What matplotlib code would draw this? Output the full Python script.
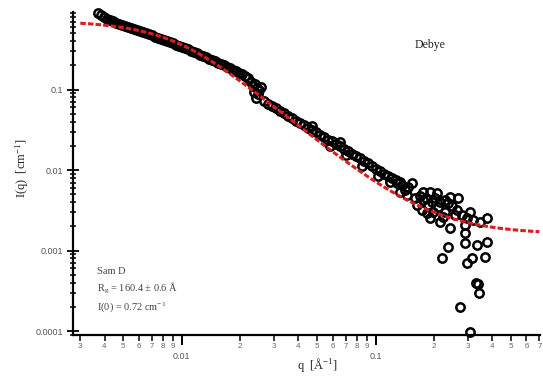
import numpy as np
import matplotlib
matplotlib.use("Agg")
import matplotlib.pyplot as plt
from matplotlib.ticker import LogLocator, FuncFormatter, NullFormatter

# ---- SANS data, sample "Sam D" ----
# low-q detector setting
q_low = [0.00370, 0.00383, 0.00397, 0.00412, 0.00427, 0.00442, 0.00458, 0.00475,
         0.00492, 0.00510, 0.00528, 0.00547, 0.00567, 0.00588, 0.00609, 0.00631,
         0.00654, 0.00677, 0.00702, 0.00727, 0.00754, 0.00781, 0.00809, 0.00839,
         0.00869, 0.00900, 0.00933, 0.00967, 0.01002, 0.01038, 0.01076, 0.01115,
         0.01155, 0.01197, 0.01240, 0.01285, 0.01332, 0.01380, 0.01430, 0.01481,
         0.01535, 0.01591, 0.01648, 0.01708, 0.01770, 0.01834, 0.01900, 0.01969,
         0.02040, 0.02114, 0.02191]
i_low = [0.892, 0.842, 0.795, 0.762, 0.730, 0.709, 0.680, 0.661, 0.642, 0.624,
         0.598, 0.581, 0.564, 0.548, 0.533, 0.518, 0.503, 0.489, 0.475, 0.455,
         0.443, 0.430, 0.418, 0.400, 0.389, 0.378, 0.362, 0.352, 0.337, 0.328,
         0.318, 0.305, 0.292, 0.284, 0.272, 0.261, 0.253, 0.243, 0.232, 0.226,
         0.216, 0.207, 0.201, 0.193, 0.185, 0.177, 0.170, 0.163, 0.156, 0.147,
         0.139]

# overlap region between settings
q_overlap = [0.02276, 0.02331, 0.02386, 0.02444, 0.02503, 0.02564, 0.02359,
             0.02473, 0.02415]
i_overlap = [0.1239, 0.1105, 0.1170, 0.1044, 0.0986, 0.1074, 0.0931, 0.0879,
             0.0784]

# mid-q detector setting
q_mid = [0.02656, 0.02785, 0.02920, 0.03062, 0.03211, 0.03367, 0.03531, 0.03703,
         0.03883, 0.04073, 0.04271, 0.04478, 0.04696, 0.04925, 0.05164, 0.05415,
         0.05679, 0.05955, 0.06245, 0.06549, 0.06867, 0.07201, 0.07551, 0.07918,
         0.08303, 0.08707, 0.09130, 0.09574, 0.1004, 0.1053, 0.1104, 0.1157,
         0.1213, 0.1272, 0.1334,
         0.05815, 0.07028, 0.08503, 0.1028, 0.04696, 0.06549]
i_mid = [0.0720, 0.0660, 0.0624, 0.0589, 0.0541, 0.0511, 0.0469, 0.0443,
         0.0406, 0.0384, 0.0362, 0.0332, 0.0314, 0.0296, 0.0272, 0.0257,
         0.0236, 0.0229, 0.0210, 0.0199, 0.0182, 0.0172, 0.0158, 0.0149,
         0.0141, 0.0129, 0.0122, 0.0112, 0.0103, 0.00972, 0.00892, 0.00842,
         0.00795, 0.00751, 0.00710,
         0.0199, 0.01536, 0.0112, 0.00842, 0.0352, 0.02227]

# high-q detector setting
q_high = [0.1185, 0.1288, 0.1416, 0.1539, 0.1449, 0.1367, 0.1467, 0.1594, 0.1334,
          0.1753, 0.1905, 0.2070, 0.1753, 0.1951, 0.2145, 0.1632, 0.1733, 0.1838,
          0.1974, 0.2145, 0.2415, 0.2359, 0.2656, 0.2625, 0.2785, 0.3062, 0.2956,
          0.3173, 0.3448, 0.3748, 0.2415, 0.2886, 0.2886, 0.1905, 0.2276, 0.2223,
          0.1692, 0.1817, 0.2021, 0.2095, 0.1861, 0.2276, 0.2473, 0.2563]
i_high = [0.00710, 0.00690, 0.00564, 0.00690, 0.00489, 0.00651, 0.00615, 0.00449,
          0.00533, 0.00533, 0.00533, 0.00518, 0.00424, 0.00400, 0.00400, 0.00367,
          0.00318, 0.00292, 0.00301, 0.00226, 0.00462, 0.00389, 0.00449, 0.00318,
          0.00276, 0.00301, 0.00253, 0.00239, 0.00226, 0.00253, 0.00190, 0.00207,
          0.00165, 0.00253, 0.00301, 0.00261, 0.00475, 0.00449, 0.00449, 0.00347,
          0.00367, 0.00424, 0.00357, 0.00276]
q_noisy = [0.2359, 0.2197, 0.2886, 0.3329, 0.3748, 0.3136, 0.2956, 0.3661,
           0.3289, 0.3368, 0.3407, 0.2720, 0.3062]
i_noisy = [0.00111, 0.000807, 0.00124, 0.00117, 0.00128, 0.000807, 0.000700,
           0.000831, 0.000395, 0.000384, 0.000296, 0.000199, 0.0000972]

# ---- Debye fit ----
rg = 160.4        # Å
rg_err = 0.6      # Å
i0 = 0.72         # cm^-1
background = 0.0016
q_fit_min, q_fit_max = 0.003, 0.7

q_fit = np.geomspace(q_fit_min, q_fit_max, 500)
u = (q_fit * rg) ** 2
i_fit = i0 * 2.0 * (np.exp(-u) + u - 1.0) / u ** 2 + background

# ---- figure ----
plt.rcParams["font.family"] = ["Liberation Sans", "DejaVu Sans"]
plt.rcParams["mathtext.default"] = "regular"
serif = ["Liberation Serif", "DejaVu Serif"]

fig = plt.figure(figsize=(5.43, 3.79), dpi=100)
ax = fig.add_axes([0.1344, 0.1161, 0.8601, 0.853])

q_all = q_low + q_overlap + q_mid + q_high + q_noisy
i_all = i_low + i_overlap + i_mid + i_high + i_noisy
ax.plot(q_all, i_all, linestyle="none", marker="o", markersize=6.0,
        markerfacecolor="none", markeredgecolor="black", markeredgewidth=1.8,
        zorder=2, clip_on=False)

ax.plot(q_fit, i_fit, color="#d81e1e", linewidth=2.2, dashes=(1.8, 0.7),
        zorder=3)

ax.set_xscale("log")
ax.set_yscale("log")
ax.set_xlim(0.00275, 0.705)
ax.set_ylim(8.92e-5, 0.93)

for side in ("top", "right"):
    ax.spines[side].set_visible(False)
for side in ("left", "bottom"):
    ax.spines[side].set_linewidth(1.6)

ax.xaxis.set_major_locator(LogLocator(base=10, numticks=10))
ax.xaxis.set_minor_locator(LogLocator(base=10, subs=np.arange(2, 10), numticks=30))
ax.xaxis.set_major_formatter(FuncFormatter(lambda v, p: f"{v:g}"))


def leading_digit(v, pos):
    return f"{int(round(v / 10 ** np.floor(np.log10(v))))}"


ax.xaxis.set_minor_formatter(FuncFormatter(leading_digit))

ax.yaxis.set_major_locator(LogLocator(base=10, numticks=10))
ax.yaxis.set_minor_locator(LogLocator(base=10, subs=np.arange(2, 10), numticks=30))
ax.yaxis.set_major_formatter(FuncFormatter(lambda v, p: f"{v:g}"))
ax.yaxis.set_minor_formatter(NullFormatter())

ax.tick_params(axis="x", which="major", direction="out", length=7, width=1.4,
               pad=5.5, labelsize=6.5, labelcolor="#555555")
ax.tick_params(axis="x", which="minor", direction="out", length=4.5, width=1.1,
               pad=1.0, labelsize=5.8, labelcolor="#666666")
ax.tick_params(axis="y", which="major", direction="inout", length=8.5, width=1.3,
               pad=3, labelsize=6.5, labelcolor="#555555")
ax.tick_params(axis="y", which="minor", direction="inout", length=4.5, width=1.1)

fig.text(317 / 543, 1 - 365 / 379, "q  [Å$^{-1}$]", ha="center", va="center",
         family=serif, size=9, color="#222222")
fig.text(22 / 543, 1 - 168 / 379, "I(q)  [cm$^{-1}$]", ha="center", va="center",
         rotation=90, family=serif, size=9, color="#222222")

fig.text(430 / 543, 1 - 45 / 379, "Debye", ha="center", va="center",
         family=serif, size=8.5, color="#222222")

ann = dict(ha="left", va="center", family=serif, size=7.5, color="#444444")
fig.text(97 / 543, 1 - 272 / 379, "Sam D", **ann)
fig.text(97 / 543, 1 - 288 / 379, f"R$_g$ = {rg} ± {rg_err} Å", **ann)
fig.text(97 / 543, 1 - 307 / 379, f"I(0) = {i0} cm$^{{-1}}$", **ann)

fig.savefig("out.png", dpi=100)
